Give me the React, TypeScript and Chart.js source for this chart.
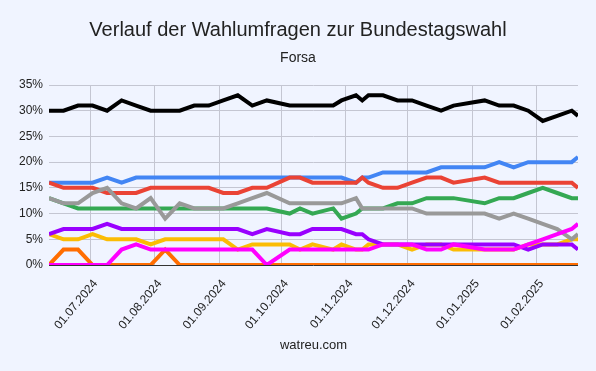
import React, { useEffect, useRef } from 'react';
import { Chart, registerables } from 'chart.js';

Chart.register(...registerables);

const TITLE = 'Verlauf der Wahlumfragen zur Bundestagswahl';
const SUBTITLE = 'Forsa';
const FOOTER = 'watreu.com';

const dates = [
  '2024-06-11', '2024-06-18', '2024-06-25', '2024-07-02', '2024-07-09', '2024-07-16',
  '2024-07-23', '2024-07-30', '2024-08-06', '2024-08-13', '2024-08-20', '2024-08-27',
  '2024-09-03', '2024-09-10', '2024-09-17', '2024-09-24', '2024-10-05', '2024-10-10',
  '2024-10-16', '2024-10-26', '2024-10-30', '2024-11-06', '2024-11-09', '2024-11-12',
  '2024-11-19', '2024-11-26', '2024-12-03', '2024-12-10', '2024-12-17', '2024-12-23',
  '2025-01-07', '2025-01-14', '2025-01-21', '2025-01-28', '2025-02-04', '2025-02-11',
  '2025-02-18', '2025-02-21',
];

const monthTicks = [
  '2024-07-01', '2024-08-01', '2024-09-01', '2024-10-01',
  '2024-11-01', '2024-12-01', '2025-01-01', '2025-02-01',
];

const cdu = [30, 30, 31, 31, 30, 32, 31, 30, 30, 30, 31, 31, 32, 33, 31, 32, 31, 31, 31, 31, 32, 33, 32, 33, 33, 32, 32, 31, 30, 31, 32, 31, 31, 30, 28, 29, 30, 29];
const spd = [16, 15, 15, 15, 14, 14, 14, 15, 15, 15, 15, 15, 14, 14, 15, 15, 17, 17, 16, 16, 16, 16, 17, 16, 15, 15, 16, 17, 17, 16, 17, 16, 16, 16, 16, 16, 16, 15];
const afd = [16, 16, 16, 16, 17, 16, 17, 17, 17, 17, 17, 17, 17, 17, 17, 17, 17, 17, 17, 17, 17, 16, 17, 17, 18, 18, 18, 18, 19, 19, 19, 20, 19, 20, 20, 20, 20, 21];
const gruene = [13, 12, 11, 11, 11, 11, 11, 11, 11, 11, 11, 11, 11, 11, 11, 11, 10, 11, 10, 11, 9, 10, 11, 11, 11, 12, 12, 13, 13, 13, 12, 13, 13, 14, 15, 14, 13, 13];
const fdp = [6, 5, 5, 6, 5, 5, 5, 4, 5, 5, 5, 5, 5, 3, 4, 4, 4, 3, 4, 3, 4, 3, 3, 4, 4, 4, 3, 4, 4, 3, 3, 3, 3, 4, 4, 4, 5, 5];
const linke = [6, 7, 7, 7, 8, 7, 7, 7, 7, 7, 7, 7, 7, 7, 6, 7, 6, 6, 7, 7, 7, 6, 6, 5, 4, 4, 4, 4, 4, 4, 4, 4, 4, 3, 4, 4, 4, 3];
const bsw = [0, 0, 0, 0, 0, 3, 4, 3, 3, 3, 3, 3, 3, 3, 3, 0, 3, 3, 3, 3, 3, 3, 3, 3, 4, 4, 4, 3, 3, 4, 3, 3, 3, 4, 5, 6, 7, 8];
const fw = [0, 3, 3, 0, 0, 0, 0, 0, 3, 0, 0, 0, 0, 0, 0, 0, 0, 0, 0, 0, 0, 0, 0, 0, 0, 0, 0, 0, 0, 0, 0, 0, 0, 0, 0, 0, 0, 0];
const sonstige = [13, 12, 12, 14, 15, 12, 11, 13, 9, 12, 11, 11, 11, 12, 13, 14, 12, 12, 12, 12, 12, 13, 11, 11, 11, 11, 11, 10, 10, 10, 10, 9, 10, 9, 8, 7, 5, 6];

// drawing order: first entry ends up on top
const series = [
  { label: 'CDU/CSU', values: cdu, color: '#000000' },
  { label: 'BSW', values: bsw, color: '#ff00ff' },
  { label: 'Sonstige', values: sonstige, color: '#999999' },
  { label: 'SPD', values: spd, color: '#ea4335' },
  { label: 'AfD', values: afd, color: '#4285f4' },
  { label: 'Grüne', values: gruene, color: '#34a853' },
  { label: 'Linke', values: linke, color: '#9900ff' },
  { label: 'FDP', values: fdp, color: '#fbbc04' },
  { label: 'Freie Wähler', values: fw, color: '#ff6d01' },
];

const BG = '#f0f4ff';
const GRID = '#c4c6d2';
const FONT = "'Liberation Sans', Arial, sans-serif";
const TEXT = '#222222';

const dayNum = (s: string) => {
  const [y, m, d] = s.split('-').map(Number);
  return Date.UTC(y, m - 1, d) / 86400000;
};
const fmt = (v: number) => {
  const dt = new Date(Math.round(v) * 86400000);
  const dd = String(dt.getUTCDate()).padStart(2, '0');
  const mm = String(dt.getUTCMonth() + 1).padStart(2, '0');
  return `${dd}.${mm}.${dt.getUTCFullYear()}`;
};

export default function App() {
  const ref = useRef<HTMLCanvasElement>(null);

  useEffect(() => {
    const bgPlugin = {
      id: 'bgFill',
      beforeDraw(chart: any) {
        const c = chart.ctx;
        c.save();
        c.fillStyle = BG;
        c.fillRect(0, 0, chart.width, chart.height);
        c.restore();
      },
    };
    const textPlugin = {
      id: 'texts',
      afterDraw(chart: any) {
        const c = chart.ctx;
        c.save();
        c.fillStyle = TEXT;
        c.textAlign = 'center';
        c.textBaseline = 'middle';
        c.font = `20px ${FONT}`;
        c.fillText(TITLE, 298, 30);
        c.font = `14px ${FONT}`;
        c.fillText(SUBTITLE, 298, 58);
        c.font = `13px ${FONT}`;
        const a = chart.chartArea;
        c.fillText(FOOTER, (a.left + a.right) / 2, 345);
        c.restore();
      },
    };

    const chart = new Chart(ref.current as HTMLCanvasElement, {
      type: 'line',
      data: {
        datasets: series.map((s) => ({
          label: s.label,
          data: dates.map((d, i) => ({ x: dayNum(d), y: s.values[i] })),
          borderColor: s.color,
          backgroundColor: s.color,
          borderWidth: 4,
          pointRadius: 0,
          pointHoverRadius: 0,
          tension: 0,
          fill: false,
        })),
      },
      options: {
        responsive: false,
        animation: false,
        layout: { padding: { top: 85, right: 18, bottom: 0, left: 0 } },
        plugins: {
          legend: { display: false },
          tooltip: { enabled: false },
          title: { display: false },
        },
        scales: {
          x: {
            type: 'linear',
            min: dayNum(dates[0]),
            max: dayNum(dates[dates.length - 1]),
            afterBuildTicks: (s: any) => {
              s.ticks = monthTicks.map((m) => ({ value: dayNum(m) }));
            },
            afterFit: (s: any) => {
              s.height = 106;
            },
            ticks: {
              autoSkip: false,
              maxRotation: 50,
              minRotation: 50,
              padding: 12,
              labelOffset: 5,
              color: TEXT,
              font: { family: FONT, size: 12 },
              callback: (v: any) => fmt(Number(v)),
            },
            grid: { color: GRID, drawTicks: false },
            border: { display: false },
          },
          y: {
            min: 0,
            max: 35,
            afterFit: (s: any) => {
              s.width = 49;
            },
            ticks: {
              stepSize: 5,
              padding: 6,
              color: TEXT,
              font: { family: FONT, size: 12 },
              callback: (v: any) => `${v}%`,
            },
            grid: {
              drawTicks: false,
              color: (ctx: any) => (ctx.tick && ctx.tick.value === 0 ? '#333333' : GRID),
            },
            border: { display: false },
          },
        },
      },
      plugins: [bgPlugin, textPlugin],
    });
    return () => chart.destroy();
  }, []);

  return (
    <div style={{ position: 'fixed', left: 0, top: 0, width: 596, height: 371, background: BG }}>
      <canvas ref={ref} width={596} height={371} style={{ display: 'block' }} />
    </div>
  );
}
